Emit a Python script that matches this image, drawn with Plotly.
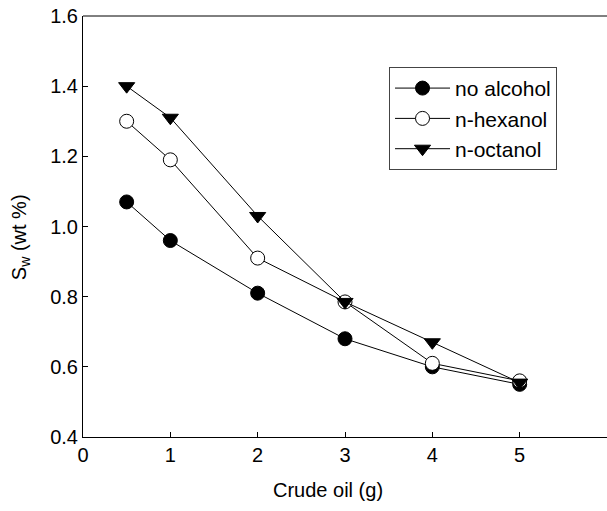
import plotly.graph_objects as go

crude_oil = [0.5, 1, 2, 3, 4, 5]
no_alcohol = [1.07, 0.96, 0.81, 0.68, 0.60, 0.55]
n_hexanol = [1.30, 1.19, 0.91, 0.785, 0.61, 0.56]
n_octanol = [1.40, 1.31, 1.03, 0.785, 0.67, 0.555]

x_ticks = [0, 1, 2, 3, 4, 5]
y_ticks = [0.4, 0.6, 0.8, 1.0, 1.2, 1.4, 1.6]

FONT = "Liberation Sans, Arial, sans-serif"

fig = go.Figure()
fig.add_trace(go.Scatter(
    x=crude_oil, y=no_alcohol, name="no alcohol", mode="lines+markers",
    line=dict(color="black", width=1),
    marker=dict(symbol="circle", size=14, color="black", line=dict(color="black", width=1)),
))
fig.add_trace(go.Scatter(
    x=crude_oil, y=n_hexanol, name="n-hexanol", mode="lines+markers",
    line=dict(color="black", width=1),
    marker=dict(symbol="circle", size=14, color="white", line=dict(color="black", width=1)),
))
fig.add_trace(go.Scatter(
    x=crude_oil, y=n_octanol, name="n-octanol", mode="lines+markers",
    line=dict(color="black", width=1),
    marker=dict(symbol="triangle-down", size=14, color="black", line=dict(color="black", width=1)),
))

fig.update_layout(
    width=607, height=511,
    margin=dict(l=83, r=0, t=16, b=74),
    paper_bgcolor="white", plot_bgcolor="white",
    font=dict(family=FONT, size=20, color="black"),
    showlegend=True,
    legend=dict(
        x=0.584, y=0.879, xanchor="left", yanchor="top",
        bordercolor="#444", borderwidth=1, bgcolor="white",
        font=dict(size=21, family=FONT, color="black"),
        tracegroupgap=0, itemwidth=55,
    ),
    xaxis=dict(
        range=[0, 6], tickvals=x_ticks, ticktext=[str(v) for v in x_ticks],
        ticks="inside", ticklen=5, tickcolor="black", tickwidth=1,
        showline=True, linecolor="black", linewidth=1, mirror=False,
        showgrid=False, zeroline=False,
        tickfont=dict(size=20, family=FONT),
    ),
    yaxis=dict(
        range=[0.4, 1.6], tickvals=y_ticks, ticktext=[f"{v:.1f}" for v in y_ticks],
        ticks="inside", ticklen=5, tickcolor="black", tickwidth=1,
        showline=True, linecolor="black", linewidth=1,
        showgrid=False, zeroline=False,
        tickfont=dict(size=20, family=FONT),
    ),
    annotations=[
        dict(text="Crude oil (g)", xref="x", yref="paper", x=2.8, y=-0.125,
             xanchor="center", yanchor="middle", showarrow=False,
             font=dict(size=20, family=FONT, color="black")),
        dict(text="S<sub>w</sub> (wt %)", xref="paper", yref="y", x=-0.12, y=0.97,
             xanchor="center", yanchor="middle", showarrow=False, textangle=-90,
             font=dict(size=20, family=FONT, color="black")),
    ],
)
# top frame line
fig.add_shape(type="line", xref="paper", yref="paper", x0=0, x1=1, y0=1, y1=1,
              line=dict(color="black", width=1))

fig.write_html("out.html")
